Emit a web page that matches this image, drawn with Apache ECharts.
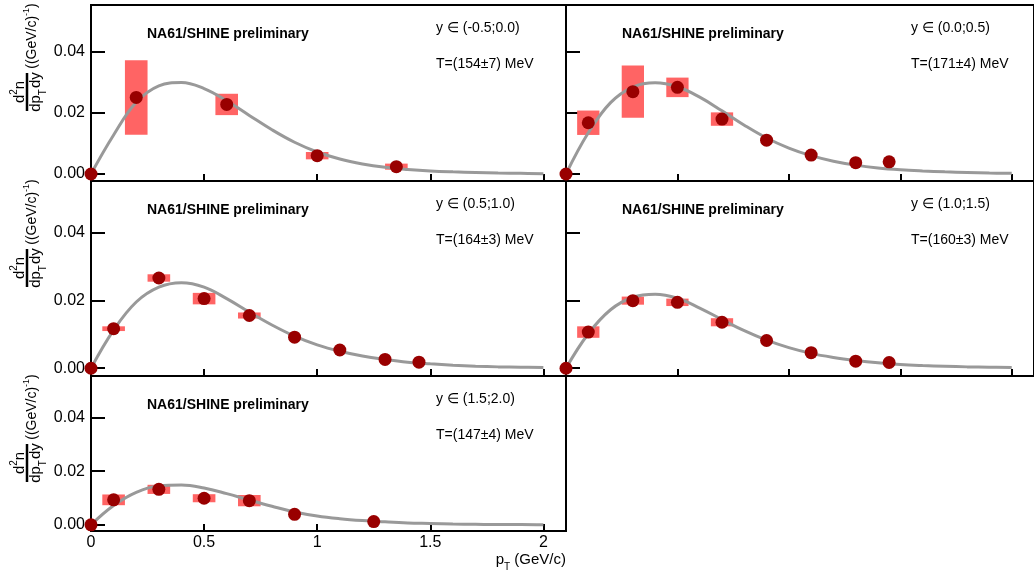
<!DOCTYPE html>
<html>
<head>
<meta charset="utf-8">
<script src="https://cdn.jsdelivr.net/npm/echarts@6/dist/echarts.min.js"></script>
<style>
html,body{margin:0;padding:0;background:#fff;}
#c{width:1034px;height:571px;}
</style>
</head>
<body>
<div id="c"></div>
<script>
// ---------------- data ----------------
const rapidityBins = ['y \u2208 (-0.5;0.0)', 'y \u2208 (0.0;0.5)', 'y \u2208 (0.5;1.0)', 'y \u2208 (1.0;1.5)', 'y \u2208 (1.5;2.0)'];
const temperatures = ['T=(154\u00b17) MeV', 'T=(171\u00b14) MeV', 'T=(164\u00b13) MeV', 'T=(160\u00b13) MeV', 'T=(147\u00b14) MeV'];

// measured points (pT, dN/dpTdy, systematic half-height)
const pT0 = [0, 0.2, 0.6, 1.0, 1.35];
const val0 = [0, 0.0251, 0.0228, 0.0060, 0.0024];
const sys0 = [0, 0.0122, 0.0035, 0.0012, 0.0010];

const pT1 = [0, 0.1, 0.3, 0.5, 0.7, 0.9, 1.1, 1.3, 1.45];
const val1 = [0, 0.0168, 0.0270, 0.0284, 0.0180, 0.0111, 0.0062, 0.0037, 0.0040];
const sys1 = [0, 0.0040, 0.0086, 0.0032, 0.0022, 0, 0, 0, 0];

const pT2 = [0, 0.1, 0.3, 0.5, 0.7, 0.9, 1.1, 1.3, 1.45];
const val2 = [0, 0.0117, 0.0267, 0.0206, 0.0156, 0.0092, 0.0054, 0.0026, 0.0018];
const sys2 = [0, 0.0007, 0.0011, 0.0017, 0.0009, 0, 0, 0, 0];

const pT3 = [0, 0.1, 0.3, 0.5, 0.7, 0.9, 1.1, 1.3, 1.45];
const val3 = [0, 0.0107, 0.0200, 0.0195, 0.0136, 0.0082, 0.0046, 0.0021, 0.0017];
const sys3 = [0, 0.0017, 0.0012, 0.0011, 0.0012, 0, 0, 0, 0];

const pT4 = [0, 0.1, 0.3, 0.5, 0.7, 0.9, 1.25];
const val4 = [0, 0.0093, 0.0132, 0.0099, 0.0090, 0.0039, 0.0012];
const sys4 = [0, 0.0020, 0.0017, 0.0015, 0.0021, 0, 0];

// fitted curves
const fitX = [0, 0.1, 0.2, 0.3, 0.4, 0.5, 0.6, 0.7, 0.8, 0.9, 1.0, 1.1, 1.2, 1.3, 1.4, 1.5, 1.6, 1.7, 1.8, 1.9, 2.0];
const fit0 = [0, 0.0128, 0.0235, 0.0289, 0.0300, 0.0280, 0.0240, 0.0192, 0.0145, 0.0104, 0.0072, 0.0049, 0.0033, 0.0022, 0.0015, 0.0010, 0.0007, 0.0005, 0.0003, 0.0002, 0.0001];
const fit1 = [0, 0.0135, 0.0234, 0.0285, 0.0299, 0.0286, 0.0252, 0.0207, 0.0160, 0.0118, 0.0085, 0.0060, 0.0042, 0.0029, 0.0020, 0.0014, 0.0010, 0.0007, 0.0005, 0.0003, 0.0002];
const fit2 = [0, 0.0113, 0.0196, 0.0240, 0.0253, 0.0240, 0.0206, 0.0166, 0.0128, 0.0095, 0.0069, 0.0050, 0.0036, 0.0026, 0.0018, 0.0013, 0.0009, 0.0006, 0.0004, 0.0003, 0.0002];
const fit3 = [0, 0.0102, 0.0173, 0.0210, 0.0219, 0.0207, 0.0178, 0.0144, 0.0111, 0.0083, 0.0061, 0.0044, 0.0032, 0.0023, 0.0016, 0.0011, 0.0008, 0.0006, 0.0004, 0.0003, 0.0002];
const fit4 = [0, 0.0072, 0.0121, 0.0145, 0.0148, 0.0137, 0.0116, 0.0092, 0.0069, 0.0048, 0.0033, 0.0023, 0.0016, 0.0011, 0.0007, 0.0005, 0.0003, 0.0002, 0.0001, 0.0001, 0.0000];

const xTicks = [0, 0.5, 1, 1.5, 2];
const yTicks = [0, 0.02, 0.04];

// ---------------- layout / style ----------------
const panels = [
  {pT: pT0, val: val0, sys: sys0, fit: fit0, left: 91, top: 5, height: 176, ylab: true, xlab: false},
  {pT: pT1, val: val1, sys: sys1, fit: fit1, left: 566, top: 5, height: 176, ylab: false, xlab: false},
  {pT: pT2, val: val2, sys: sys2, fit: fit2, left: 91, top: 181, height: 195, ylab: true, xlab: false},
  {pT: pT3, val: val3, sys: sys3, fit: fit3, left: 566, top: 181, height: 195, ylab: false, xlab: false},
  {pT: pT4, val: val4, sys: sys4, fit: fit4, left: 91, top: 376, height: 155, ylab: true, xlab: true}
];
const PANEL_W = 475;
const X_MIN = 0, X_MAX = 2.1, Y_MIN = -0.0023, Y_MAX = 0.0554;
const BOX_HALF = 0.05;
const FONT = '"Liberation Sans", Arial, Helvetica, sans-serif';
const BOX_COLOR = '#ff6464';
const PT_COLOR = '#990000';
const FIT_COLOR = '#999999';

const grid = [], xAxis = [], yAxis = [], series = [], graphic = [];

panels.forEach((p, i) => {
  grid.push({left: p.left, top: p.top, width: PANEL_W, height: p.height,
    show: true, borderColor: '#000', borderWidth: 2, backgroundColor: 'transparent', containLabel: false});
  xAxis.push({type: 'value', gridIndex: i, min: X_MIN, max: X_MAX,
    axisLine: {show: true, onZero: false, lineStyle: {color: '#000', width: 2}},
    axisTick: {show: true, inside: true, length: 7, customValues: xTicks, lineStyle: {color: '#000', width: 2}},
    axisLabel: {show: p.xlab, customValues: xTicks, formatter: v => String(v), fontSize: 16, color: '#000', fontFamily: FONT, margin: 4},
    splitLine: {show: false}});
  yAxis.push({type: 'value', gridIndex: i, min: Y_MIN, max: Y_MAX,
    axisLine: {show: true, onZero: false, lineStyle: {color: '#000', width: 2}},
    axisTick: {show: true, inside: true, length: 14, customValues: yTicks, lineStyle: {color: '#000', width: 2}},
    axisLabel: {show: p.ylab, customValues: yTicks, formatter: v => v.toFixed(2), fontSize: 16, color: '#000', fontFamily: FONT, margin: 6},
    splitLine: {show: false}});

  const boxData = p.pT.map((x, k) => [x, p.val[k], p.sys[k]]);
  series.push({type: 'custom', xAxisIndex: i, yAxisIndex: i, z: 1, clip: false,
    dimensions: ['x', 'y', 'e'], encode: {x: 0, y: 1},
    data: boxData,
    renderItem: (params, api) => {
      const x = api.value(0), y = api.value(1), e = api.value(2);
      if (!e) return null;
      const a = api.coord([x - BOX_HALF, y + e]);
      const b = api.coord([x + BOX_HALF, y - e]);
      return {type: 'rect', shape: {x: a[0], y: a[1], width: b[0] - a[0], height: b[1] - a[1]},
        style: {fill: BOX_COLOR}};
    }});
  series.push({type: 'line', xAxisIndex: i, yAxisIndex: i, z: 2, showSymbol: false, smooth: 0.4,
    data: fitX.map((x, k) => [x, p.fit[k]]), lineStyle: {color: FIT_COLOR, width: 3}, silent: true, clip: false});
  series.push({type: 'scatter', xAxisIndex: i, yAxisIndex: i, z: 3, clip: false, symbolSize: 13,
    itemStyle: {color: PT_COLOR, opacity: 1},
    data: p.pT.map((x, k) => [x, p.val[k]])});

  // texts
  graphic.push({type: 'text', left: p.left + 56, top: p.top + 22, z: 10,
    style: {text: 'NA61/SHINE preliminary', font: 'bold 14px ' + FONT, fill: '#000'}});
  graphic.push({type: 'text', left: p.left + 345, top: p.top + 16, z: 10,
    style: {text: rapidityBins[i], font: '14px ' + FONT, fill: '#000'}});
  graphic.push({type: 'text', left: p.left + 345, top: p.top + 52, z: 10,
    style: {text: temperatures[i], font: '14px ' + FONT, fill: '#000'}});

  // y-axis title for left column
  if (p.ylab) {
    const fy = p.top + 87;
    graphic.push({type: 'text', x: 18, y: fy, rotation: Math.PI / 2, z: 10,
      style: {text: '{n|d}{s|2}{n|n}', align: 'center', verticalAlign: 'middle',
        rich: {n: {font: '15px ' + FONT, fill: '#000', lineHeight: 18, verticalAlign: 'bottom'},
               s: {font: '10px ' + FONT, fill: '#000', lineHeight: 18, verticalAlign: 'top'}}}});
    graphic.push({type: 'line', shape: {x1: 27, y1: fy - 19, x2: 27, y2: fy + 19}, z: 10,
      style: {stroke: '#000', lineWidth: 2.5}});
    graphic.push({type: 'text', x: 38, y: fy, rotation: Math.PI / 2, z: 10,
      style: {text: '{n|dp}{s|T}{n|dy}', align: 'center', verticalAlign: 'middle',
        rich: {n: {font: '15px ' + FONT, fill: '#000', lineHeight: 20, verticalAlign: 'top'},
               s: {font: '10px ' + FONT, fill: '#000', lineHeight: 20, verticalAlign: 'bottom', padding: [0, 1, 0, 0]}}}});
    graphic.push({type: 'text', x: 31, y: p.top + 31, rotation: Math.PI / 2, z: 10,
      style: {text: '{n|((GeV/c)}{s|-1}{n|)}', align: 'center', verticalAlign: 'middle',
        rich: {n: {font: '14px ' + FONT, fill: '#000', lineHeight: 17, verticalAlign: 'bottom'},
               s: {font: '9px ' + FONT, fill: '#000', lineHeight: 17, verticalAlign: 'top'}}}});
  }
});

// x-axis title
graphic.push({type: 'text', right: 1034 - 566, top: 552, z: 10,
  style: {text: '{n|p}{s|T}{n| (GeV/c)}', align: 'right',
    rich: {n: {font: '15px ' + FONT, fill: '#000', lineHeight: 20, verticalAlign: 'top'},
           s: {font: '10px ' + FONT, fill: '#000', lineHeight: 20, verticalAlign: 'bottom'}}}});

const chart = echarts.init(document.getElementById('c'), null, {renderer: 'canvas'});
chart.setOption({animation: false, backgroundColor: '#fff', grid, xAxis, yAxis, series, graphic});
</script>
</body>
</html>
